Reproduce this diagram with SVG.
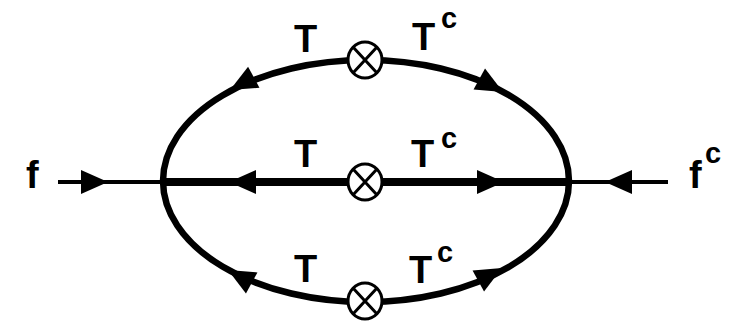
<svg xmlns="http://www.w3.org/2000/svg" xmlns:xlink="http://www.w3.org/1999/xlink" width="747" height="323" viewBox="0 0 747 323">
<style>
.lbl{font-family:"Liberation Sans",Arial,sans-serif;font-weight:bold;font-size:38px;fill:#000}
.sup{font-family:"Liberation Sans",Arial,sans-serif;font-weight:bold;font-size:29px;fill:#000}
.thin{stroke:#000;stroke-width:4;fill:none}
.thick{stroke:#000;stroke-width:8;fill:none}
.oval{stroke:#000;stroke-width:6.5;fill:none}
.vx ellipse{fill:#fff;stroke:#000;stroke-width:3}
.vx path{stroke:#000;stroke-width:3;fill:none}
</style>
<defs>
<path id="ah" d="M0,0 L-27,-12 L-27,12 Z" fill="#000"/>
</defs>
<rect width="747" height="323" fill="#fff"/>
<g id="connectors">
<ellipse class="oval" cx="366" cy="181" rx="203" ry="121"/>
<line class="thin" x1="58" y1="182" x2="163" y2="182"/>
<line class="thick" x1="163" y1="182" x2="570" y2="182"/>
<line class="thin" x1="570" y1="182" x2="668" y2="182"/>
<use xlink:href="#ah" transform="translate(108,182)"/>
<use xlink:href="#ah" transform="translate(229,182) rotate(180)"/>
<use xlink:href="#ah" transform="translate(504,182)"/>
<use xlink:href="#ah" transform="translate(605,182) rotate(180)"/>
<use xlink:href="#ah" transform="translate(230,90) rotate(151.7)"/>
<use xlink:href="#ah" transform="translate(503,92) rotate(28.6)"/>
<use xlink:href="#ah" transform="translate(228,270) rotate(-151.4)"/>
<use xlink:href="#ah" transform="translate(502,268) rotate(-28.6)"/>
</g>
<g id="vertex-top" class="vx">
<ellipse cx="365" cy="60" rx="17" ry="18"/>
<path d="M353,47 L377,73 M377,47 L353,73"/>
</g>
<g id="vertex-mid" class="vx">
<ellipse cx="365" cy="182" rx="17" ry="18"/>
<path d="M353,169 L377,195 M377,169 L353,195"/>
</g>
<g id="vertex-bot" class="vx">
<ellipse cx="365" cy="301" rx="17" ry="18"/>
<path d="M353,288 L377,314 M377,288 L353,314"/>
</g>
<g id="labels">
<text class="lbl" x="294" y="52">T</text>
<text class="lbl" x="412" y="50">T</text><text class="sup" x="441" y="28">c</text>
<text class="lbl" x="294" y="167">T</text>
<text class="lbl" x="411" y="167">T</text><text class="sup" x="441" y="148">c</text>
<text class="lbl" x="294" y="282">T</text>
<text class="lbl" x="409" y="283">T</text><text class="sup" x="437" y="262">c</text>
<text class="lbl" x="26" y="188">f</text>
<text class="lbl" x="689" y="188">f</text><text class="sup" x="705" y="163">c</text>
</g>
</svg>
